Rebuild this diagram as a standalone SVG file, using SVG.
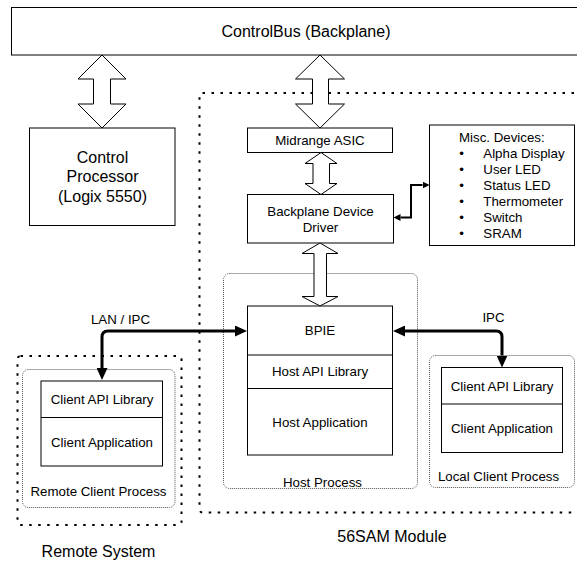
<svg xmlns="http://www.w3.org/2000/svg" width="577" height="561" viewBox="0 0 577 561">
<defs>
<style>
text{font-family:"Liberation Sans",Arial,sans-serif;fill:#000}
.t16{font-size:16px;text-anchor:middle}
.t13{font-size:13.3px;text-anchor:middle}
.tl{font-size:13.3px}
.box{fill:#fff;stroke:#000;stroke-width:1}
.barrow{fill:#fff;stroke:#000;stroke-width:1;stroke-linejoin:miter}
.bigdot{fill:none;stroke:#000;stroke-width:2;stroke-dasharray:2.5 6.5}
.finedot{fill:none;stroke:#555;stroke-width:1;stroke-dasharray:1 1}
.thick{fill:none;stroke:#000;stroke-width:3}
.thin{fill:none;stroke:#000;stroke-width:2}
</style>
<marker id="ah" markerUnits="userSpaceOnUse" markerWidth="12" markerHeight="11" refX="0" refY="5.5" orient="auto-start-reverse" viewBox="0 0 12 11">
<path d="M0,0 L12,5.5 L0,11 z" fill="#000"/>
</marker>
<marker id="ahs" markerUnits="userSpaceOnUse" markerWidth="7" markerHeight="7" refX="0" refY="3.5" orient="auto-start-reverse" viewBox="0 0 7 7">
<path d="M0,0 L7,3.5 L0,7 z" fill="#000"/>
</marker>
</defs>
<rect width="577" height="561" fill="#fff"/>

<g id="containers">
<rect id="module-56sam" class="bigdot" x="199.5" y="93" width="420" height="419.5" rx="3"/>
<rect id="remote-system" class="bigdot" x="17.5" y="356" width="164" height="169" rx="3"/>
<rect id="host-process" class="finedot" x="223.5" y="273.5" width="194" height="215" rx="6"/>
<rect id="remote-client-process" class="finedot" x="22.5" y="369.5" width="152.5" height="138" rx="6"/>
<rect id="local-client-process" class="finedot" x="429.5" y="355.5" width="145" height="132" rx="6"/>
</g>

<g id="controlbus">
<rect class="box" x="11.5" y="7.5" width="580" height="47.5"/>
<text class="t16" x="306" y="37">ControlBus (Backplane)</text>
</g>

<g id="control-processor">
<rect class="box" x="29.5" y="128" width="145.5" height="97.5"/>
<text class="t16" x="102.5" y="162.5">Control</text>
<text class="t16" x="102.5" y="182">Processor</text>
<text class="t16" x="102.5" y="201.5">(Logix 5550)</text>
</g>

<g id="midrange-asic">
<rect class="box" x="247.5" y="128" width="145" height="24.5"/>
<text class="t13" x="320" y="144.5">Midrange ASIC</text>
</g>

<g id="backplane-device-driver">
<rect class="box" x="247.5" y="194.5" width="146" height="48.5"/>
<text class="t13" x="320.5" y="216">Backplane Device</text>
<text class="t13" x="320.5" y="231.5">Driver</text>
</g>

<g id="misc-devices">
<rect class="box" x="429.5" y="125" width="145" height="120.5"/>
<text class="tl" x="459" y="141.5">Misc. Devices:</text>
<g class="t13">
<text x="461.7" y="157.6" text-anchor="middle">•</text>
<text x="461.7" y="173.7" text-anchor="middle">•</text>
<text x="461.7" y="189.8" text-anchor="middle">•</text>
<text x="461.7" y="205.9" text-anchor="middle">•</text>
<text x="461.7" y="222" text-anchor="middle">•</text>
<text x="461.7" y="238.1" text-anchor="middle">•</text>
</g>
<text class="tl" x="483.3" y="157.6">Alpha Display</text>
<text class="tl" x="483.3" y="173.7">User LED</text>
<text class="tl" x="483.3" y="189.8">Status LED</text>
<text class="tl" x="483.3" y="205.9">Thermometer</text>
<text class="tl" x="483.3" y="222">Switch</text>
<text class="tl" x="483.3" y="238.1">SRAM</text>
</g>

<g id="host-stack">
<rect class="box" x="247.5" y="306" width="145" height="149"/>
<line x1="247.5" y1="355" x2="392.5" y2="355" stroke="#000"/>
<line x1="247.5" y1="388.5" x2="392.5" y2="388.5" stroke="#000"/>
<text class="t13" x="320" y="335">BPIE</text>
<text class="t13" x="320" y="375.5">Host API Library</text>
<text class="t13" x="320" y="426.5">Host Application</text>
<text class="t13" x="322.5" y="486.5">Host Process</text>
</g>

<g id="remote-client">
<rect class="box" x="41" y="381" width="121.5" height="85"/>
<line x1="41" y1="417.5" x2="162.5" y2="417.5" stroke="#000"/>
<text class="t13" x="102" y="404">Client API Library</text>
<text class="t13" x="102" y="446.5">Client Application</text>
<text class="t13" x="98.5" y="495.5">Remote Client Process</text>
</g>

<g id="local-client">
<rect class="box" x="441.5" y="367.5" width="121" height="85"/>
<line x1="441.5" y1="404" x2="562.5" y2="404" stroke="#000"/>
<text class="t13" x="502" y="391">Client API Library</text>
<text class="t13" x="502" y="432.5">Client Application</text>
<text class="t13" x="498.5" y="481">Local Client Process</text>
</g>

<g id="labels">
<text class="t16" x="98.5" y="557">Remote System</text>
<text class="t16" x="392" y="542">56SAM Module</text>
</g>

<g id="connectors">
<polygon class="barrow" points="102,55 78,79 93.5,79 93.5,104 78,104 102,128 126,104 110.5,104 110.5,79 126,79"/>
<polygon class="barrow" points="320,55 295.5,79 312.5,79 312.5,104 295.5,104 320,128 344.5,104 328.5,104 328.5,79 344.5,79"/>
<polygon class="barrow" points="321,152.5 305,163.5 313,163.5 313,183.5 305,183.5 321,194.5 337,183.5 329.5,183.5 329.5,163.5 337,163.5"/>
<polygon class="barrow" points="320,243 302,253.5 314,253.5 314,296.5 302,296.5 320,306 338,296.5 326.5,296.5 326.5,253.5 338,253.5"/>
<path class="thick" d="M102,368 V337 Q102,331 108,331 H235" marker-start="url(#ah)" marker-end="url(#ah)"/>
<text class="t13" x="120.5" y="324">LAN / IPC</text>
<path class="thick" d="M405,331 H496 Q502,331 502,337 V355.5" marker-start="url(#ah)" marker-end="url(#ah)"/>
<text class="t13" x="493.5" y="321.5">IPC</text>
<path class="thin" d="M400.5,217.5 H411 V185 H422.5" marker-start="url(#ahs)" marker-end="url(#ahs)"/>
</g>
</svg>
